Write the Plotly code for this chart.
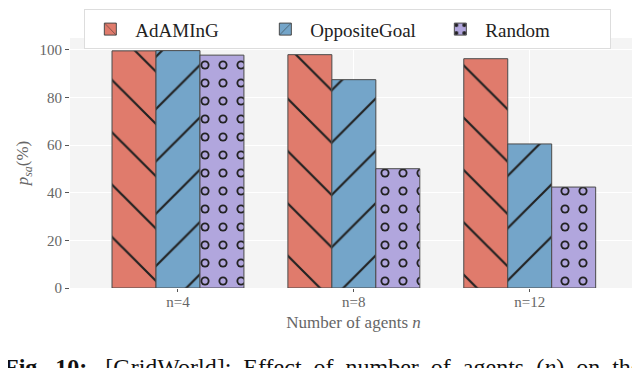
"""Effect of number of agents on p_sa — grouped hatched bar chart."""

import plotly.graph_objects as go

# ── data ─────────────────────────────────────────────────────────────

categories = ["n=4", "n=8", "n=12"]
adaming = [99.6, 98.0, 96.3]
opposite_goal = [99.7, 87.5, 60.5]
random_goal = [97.8, 50.1, 42.4]

# ── style ────────────────────────────────────────────────────────────

COLORS = {
    "adaming": "#e07b6c",
    "opposite": "#74a5c9",
    "random": "#b1a6dd",
    "edge": "#4a4a4a",
    "hatch": "#222222",
    "bg": "#f4f4f4",
    "text": "#666666",
}
FONT = "Liberation Serif"
W = 0.25

# ── chart ────────────────────────────────────────────────────────────

fig = go.Figure()

fig.add_trace(
    go.Bar(
        x=categories,
        y=adaming,
        name="AdAMInG",
        offset=-1.5 * W,
        width=W,
        marker={
            "color": COLORS["adaming"],
            "line": {"color": COLORS["edge"], "width": 1},
            "pattern": {"shape": "\\", "fgcolor": COLORS["hatch"], "fgopacity": 1,
                        "size": 37, "solidity": 0.06},
        },
    )
)
fig.add_trace(
    go.Bar(
        x=categories,
        y=opposite_goal,
        name="OppositeGoal",
        offset=-0.5 * W,
        width=W,
        marker={
            "color": COLORS["opposite"],
            "line": {"color": COLORS["edge"], "width": 1},
            "pattern": {"shape": "/", "fgcolor": COLORS["hatch"], "fgopacity": 1,
                        "size": 37, "solidity": 0.06},
        },
    )
)
fig.add_trace(
    go.Bar(
        x=categories,
        y=random_goal,
        name="Random",
        offset=0.5 * W,
        width=W,
        marker={
            "color": COLORS["random"],
            "line": {"color": COLORS["edge"], "width": 1},
            "pattern": {"shape": ".", "fgcolor": COLORS["hatch"], "fgopacity": 1,
                        "size": 18, "solidity": 0.2},
        },
    )
)
# inner part of the rings
fig.add_trace(
    go.Bar(
        x=categories,
        y=random_goal,
        offset=0.5 * W,
        width=W,
        showlegend=False,
        hoverinfo="skip",
        marker={
            "color": "rgba(0,0,0,0)",
            "line": {"width": 0},
            "pattern": {
                "shape": ".",
                "fgcolor": COLORS["random"],
                "fgopacity": 1,
                "bgcolor": "rgba(0,0,0,0)",
                "size": 18,
                "solidity": 0.07,
            },
        },
    )
)

fig.add_annotation(
    text="<b>Fig.&nbsp;&nbsp;10:</b>&nbsp;&nbsp; [GridWorld]:  Effect  of  number  of  agents  (<i>n</i>)  on  the",
    xref="paper",
    yref="paper",
    x=-0.12,
    y=-0.255,
    xanchor="left",
    yanchor="top",
    showarrow=False,
    font={"family": FONT, "size": 24, "color": "#111111"},
)

# the page body adds an 8px margin, so the figure is 8px smaller each way
fig.update_layout(
    width=632,
    height=360,
    margin={"l": 62, "r": 3, "t": 30, "b": 80, "autoexpand": False},
    barmode="overlay",
    paper_bgcolor="white",
    plot_bgcolor=COLORS["bg"],
    font={"family": FONT, "size": 15, "color": COLORS["text"]},
    showlegend=True,
    legend={
        "orientation": "h",
        "x": 0.49,
        "xanchor": "center",
        "y": 1.115,
        "yanchor": "top",
        "bordercolor": "#dddddd",
        "borderwidth": 1,
        "bgcolor": "white",
        "font": {"size": 19, "color": "#222222"},
        "entrywidth": 120,
        "itemwidth": 40,
    },
    xaxis={
        "range": [-0.614, 2.61],
        "showgrid": True,
        "gridcolor": "white",
        "gridwidth": 1.2,
        "ticks": "outside",
        "ticklen": 3,
        "tickcolor": "#555555",
        "ticklabelstandoff": -3,
        "tickfont": {"size": 15, "color": COLORS["text"]},
        "title": {"text": "Number of agents <i>n</i>", "font": {"size": 17, "color": COLORS["text"]}, "standoff": 7},
        "zeroline": False,
    },
    yaxis={
        "range": [0, 105],
        "tickvals": [0, 20, 40, 60, 80, 100],
        "showgrid": True,
        "gridcolor": "white",
        "gridwidth": 1.2,
        "ticks": "outside",
        "ticklen": 4,
        "tickcolor": "#555555",
        "tickfont": {"size": 15, "color": COLORS["text"]},
        "title": {"text": "<i>p<sub>sa</sub></i>(%)", "font": {"size": 17, "color": COLORS["text"]}, "standoff": 6},
        "zeroline": False,
    },
)

fig.write_html("out.html")
